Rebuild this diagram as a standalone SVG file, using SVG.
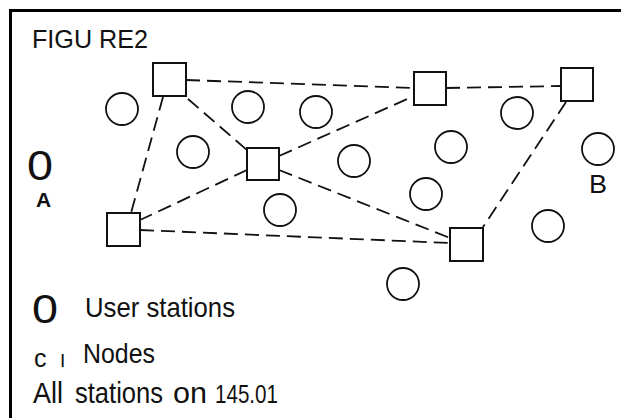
<svg xmlns="http://www.w3.org/2000/svg" width="621" height="418" viewBox="0 0 621 418">
<style>
.node rect{fill:#fff;stroke:#111;stroke-width:2}
.st circle{fill:none;stroke:#111;stroke-width:1.8}
#connectors line{stroke:#111;stroke-width:1.8;stroke-dasharray:14 7;fill:none}
text{font-family:"Liberation Sans",Arial,sans-serif;fill:#111}
</style>
<rect width="621" height="418" fill="#fff"/>
<path d="M10.5 430 V10.5 H630" fill="none" stroke="#000" stroke-width="3"/>
<text x="32" y="48" font-size="26" textLength="116" lengthAdjust="spacingAndGlyphs">FIGU RE2</text>
<g id="connectors">
<line x1="186" y1="80" x2="414" y2="88"/>
<line x1="446" y1="88" x2="561" y2="86"/>
<line x1="163" y1="97" x2="131" y2="213"/>
<line x1="188" y1="99" x2="247" y2="150"/>
<line x1="279" y1="156" x2="414" y2="96"/>
<line x1="279" y1="170" x2="450" y2="238"/>
<line x1="247" y1="170" x2="140" y2="220"/>
<line x1="140" y1="230" x2="450" y2="243"/>
<line x1="566" y1="102" x2="483" y2="227"/>
</g>
<g id="n1" class="node"><rect x="153" y="63" width="33" height="33"/></g>
<g id="n2" class="node"><rect x="247" y="148" width="32" height="32"/></g>
<g id="n3" class="node"><rect x="414" y="72" width="32" height="33"/></g>
<g id="n4" class="node"><rect x="561" y="68" width="32" height="33"/></g>
<g id="n5" class="node"><rect x="107" y="213" width="33" height="33"/></g>
<g id="n6" class="node"><rect x="450" y="228" width="33" height="33"/></g>
<g id="s1" class="st"><circle cx="122" cy="109" r="16"/></g>
<g id="s2" class="st"><circle cx="193" cy="152" r="16"/></g>
<g id="s3" class="st"><circle cx="248" cy="107" r="16"/></g>
<g id="s4" class="st"><circle cx="316" cy="112" r="16"/></g>
<g id="s5" class="st"><circle cx="517" cy="113" r="16"/></g>
<g id="s6" class="st"><circle cx="451" cy="147" r="16"/></g>
<g id="s7" class="st"><circle cx="354" cy="161" r="16"/></g>
<g id="s8" class="st"><circle cx="598" cy="149" r="16"/></g>
<g id="s9" class="st"><circle cx="426" cy="194" r="16"/></g>
<g id="s10" class="st"><circle cx="280" cy="210" r="16"/></g>
<g id="s11" class="st"><circle cx="548" cy="226" r="16"/></g>
<g id="s12" class="st"><circle cx="403" cy="284" r="16"/></g>
<g id="labelA"><text x="27" y="180" font-size="42" textLength="26" lengthAdjust="spacingAndGlyphs">0</text>
<text x="36" y="207" font-size="21" font-weight="bold">A</text></g>
<g id="labelB"><text x="589" y="193" font-size="26" textLength="18" lengthAdjust="spacingAndGlyphs">B</text></g>
<g id="legend">
<text x="32" y="323" font-size="40" textLength="26" lengthAdjust="spacingAndGlyphs">0</text>
<text x="85" y="317" font-size="28" textLength="150" lengthAdjust="spacingAndGlyphs">User stations</text>
<text x="34" y="367" font-size="25">c</text>
<text x="60" y="367" font-size="19">I</text>
<text x="83" y="363" font-size="27" textLength="72" lengthAdjust="spacingAndGlyphs">Nodes</text>
<text x="33" y="403" font-size="29" textLength="30" lengthAdjust="spacingAndGlyphs">All</text>
<text x="75" y="403" font-size="29" textLength="88" lengthAdjust="spacingAndGlyphs">stations</text>
<text x="173" y="403" font-size="29" textLength="34" lengthAdjust="spacingAndGlyphs">on</text>
<text x="215" y="403" font-size="25" textLength="63" lengthAdjust="spacingAndGlyphs">145.01</text>
</g>
</svg>
